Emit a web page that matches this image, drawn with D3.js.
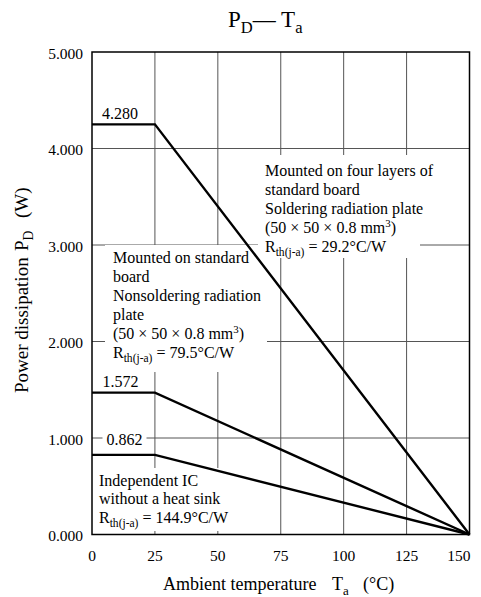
<!DOCTYPE html>
<html><head><meta charset="utf-8">
<script src="https://cdn.jsdelivr.net/npm/d3@7"></script>
<style>
html,body{margin:0;padding:0;background:#fff;}
</style></head>
<body><svg id="c" width="481" height="597" font-family="'Liberation Serif', 'Times New Roman', Times, 'DejaVu Serif', serif"></svg>
<script>
// ---- data ----
const temps = [0, 25, 150];
const fourLayer = [4.25, 4.25, 0];     // drawn level (label 4.280)
const stdBoard = [1.47, 1.47, 0];      // drawn level (label 1.572)
const independent = [0.825, 0.825, 0]; // drawn level (label 0.862)
const valueLabels = ["4.280", "1.572", "0.862"];
const xTicks = [0, 25, 50, 75, 100, 125, 150];
const yTicks = [0, 1, 2, 3, 4, 5];
const yTickLabels = ["0.000", "1.000", "2.000", "3.000", "4.000", "5.000"];

const svg = d3.select("#c");
const x = d3.scaleLinear().domain([0, 150]).range([92, 469.5]);
const y = d3.scaleLinear().domain([0, 5]).range([534.5, 52]);
const FS = 16, TFS = 15.5;

// grid
const g = svg.append("g");
g.selectAll(".vg").data(xTicks.slice(1, -1)).join("line")
  .attr("x1", d => x(d)).attr("x2", d => x(d)).attr("y1", y(5)).attr("y2", y(0))
  .attr("stroke", "#555").attr("stroke-width", 1);
g.selectAll(".hg").data(yTicks.slice(1, -1)).join("line")
  .attr("x1", x(0)).attr("x2", x(150)).attr("y1", d => y(d)).attr("y2", d => y(d))
  .attr("stroke", "#555").attr("stroke-width", 1);

// white boxes behind annotations
const boxes = [
  [258, 155, 162, 103],
  [105, 245, 162, 127],
  [93, 468, 150, 63]
];
svg.selectAll(".bx").data(boxes).join("rect")
  .attr("x", d => d[0]).attr("y", d => d[1]).attr("width", d => d[2]).attr("height", d => d[3])
  .attr("fill", "#fff");

// value label positions (centre of text)
const vLabelX = [120, 120.5, 124.5];
const vLabelY = [y(fourLayer[0]) - 11, y(stdBoard[0]) - 11, y(1) + 1];
svg.selectAll(".vb").data(valueLabels).join("rect")
  .attr("x", (d, i) => vLabelX[i] - 22).attr("y", (d, i) => vLabelY[i] - 9)
  .attr("width", 44).attr("height", 18).attr("fill", "#fff");

// curves
const line = d3.line().x(d => x(d[0])).y(d => y(d[1]));
[fourLayer, stdBoard, independent].forEach(s => {
  svg.append("path").datum(temps.map((t, i) => [t, s[i]]))
    .attr("d", line).attr("fill", "none").attr("stroke", "#000")
    .attr("stroke-width", 2.4).attr("stroke-linejoin", "miter");
});

// value labels
svg.selectAll(".vt").data(valueLabels).join("text")
  .attr("x", (d, i) => vLabelX[i]).attr("y", (d, i) => vLabelY[i]).attr("dy", "0.36em")
  .attr("text-anchor", "middle").attr("font-size", FS).text(d => d);

// frame
svg.append("rect").attr("x", x(0)).attr("y", y(5))
  .attr("width", x(150) - x(0)).attr("height", y(0) - y(5))
  .attr("fill", "none").attr("stroke", "#000").attr("stroke-width", 1.5);

// tick labels
svg.selectAll(".yt").data(yTicks).join("text")
  .attr("x", 83).attr("y", d => y(d)).attr("dy", "0.45em")
  .attr("text-anchor", "end").attr("font-size", TFS).text((d, i) => yTickLabels[i]);
svg.selectAll(".xt").data(xTicks).join("text")
  .attr("x", d => d === 150 ? x(d) + 1 : x(d)).attr("y", 561)
  .attr("text-anchor", d => d === 150 ? "end" : "middle").attr("font-size", TFS).text(d => d);

// helper for rich text lines
function rich(parent, xx, yy, parts, fs) {
  const t = parent.append("text").attr("x", xx).attr("y", yy).attr("font-size", fs);
  parts.forEach(p => {
    const s = t.append("tspan").text(p.t);
    if (p.sub) s.attr("font-size", fs * 0.72).attr("dy", fs * 0.28);
    if (p.sup) s.attr("font-size", fs * 0.68).attr("dy", -fs * 0.4);
    if (p.back) s.attr("dy", p.back);
    if (p.x !== undefined) s.attr("x", p.x);
  });
  return t;
}
function block(xx, y0, lh, lines) {
  lines.forEach((ln, i) => {
    if (typeof ln === "string") rich(svg, xx, y0 + i * lh, [{t: ln}], FS);
    else rich(svg, xx, y0 + i * lh, ln, FS);
  });
}
const mm = [{t: "(50 × 50 × 0.8 mm"}, {t: "3", sup: true}, {t: ")", back: FS * 0.4}];
const R = v => [{t: "R"}, {t: "th(j-a)", sub: true}, {t: " = " + v + "°C/W", back: -FS * 0.28}];

block(265, 176, 19, ["Mounted on four layers of", "standard board", "Soldering radiation plate", mm, R("29.2")]);
block(113, 263, 19, ["Mounted on standard", "board", "Nonsoldering radiation", "plate", mm, R("79.5")]);
block(99, 486, 18.3, ["Independent IC", "without a heat sink", R("144.9")]);

// title
rich(svg, 228, 27, [{t: "P"}, {t: "D", sub: true}, {t: "— T", back: -23 * 0.28}, {t: "a", sub: true}], 23);

// axis titles
rich(svg, 163, 590, [{t: "Ambient temperature"}, {t: "T", x: 332}, {t: "a", sub: true}, {t: "(°C)", x: 363, back: -18 * 0.28}], 18);
// y title, rotated: x in rotated frame equals -pageY
rich(svg, -393, 0, [{t: "Power dissipation"}, {t: "P", x: -251}, {t: "D", sub: true}, {t: "(W)", x: -218, back: -19 * 0.28}], 19)
  .attr("transform", "translate(28,0) rotate(-90)");
</script></body></html>
